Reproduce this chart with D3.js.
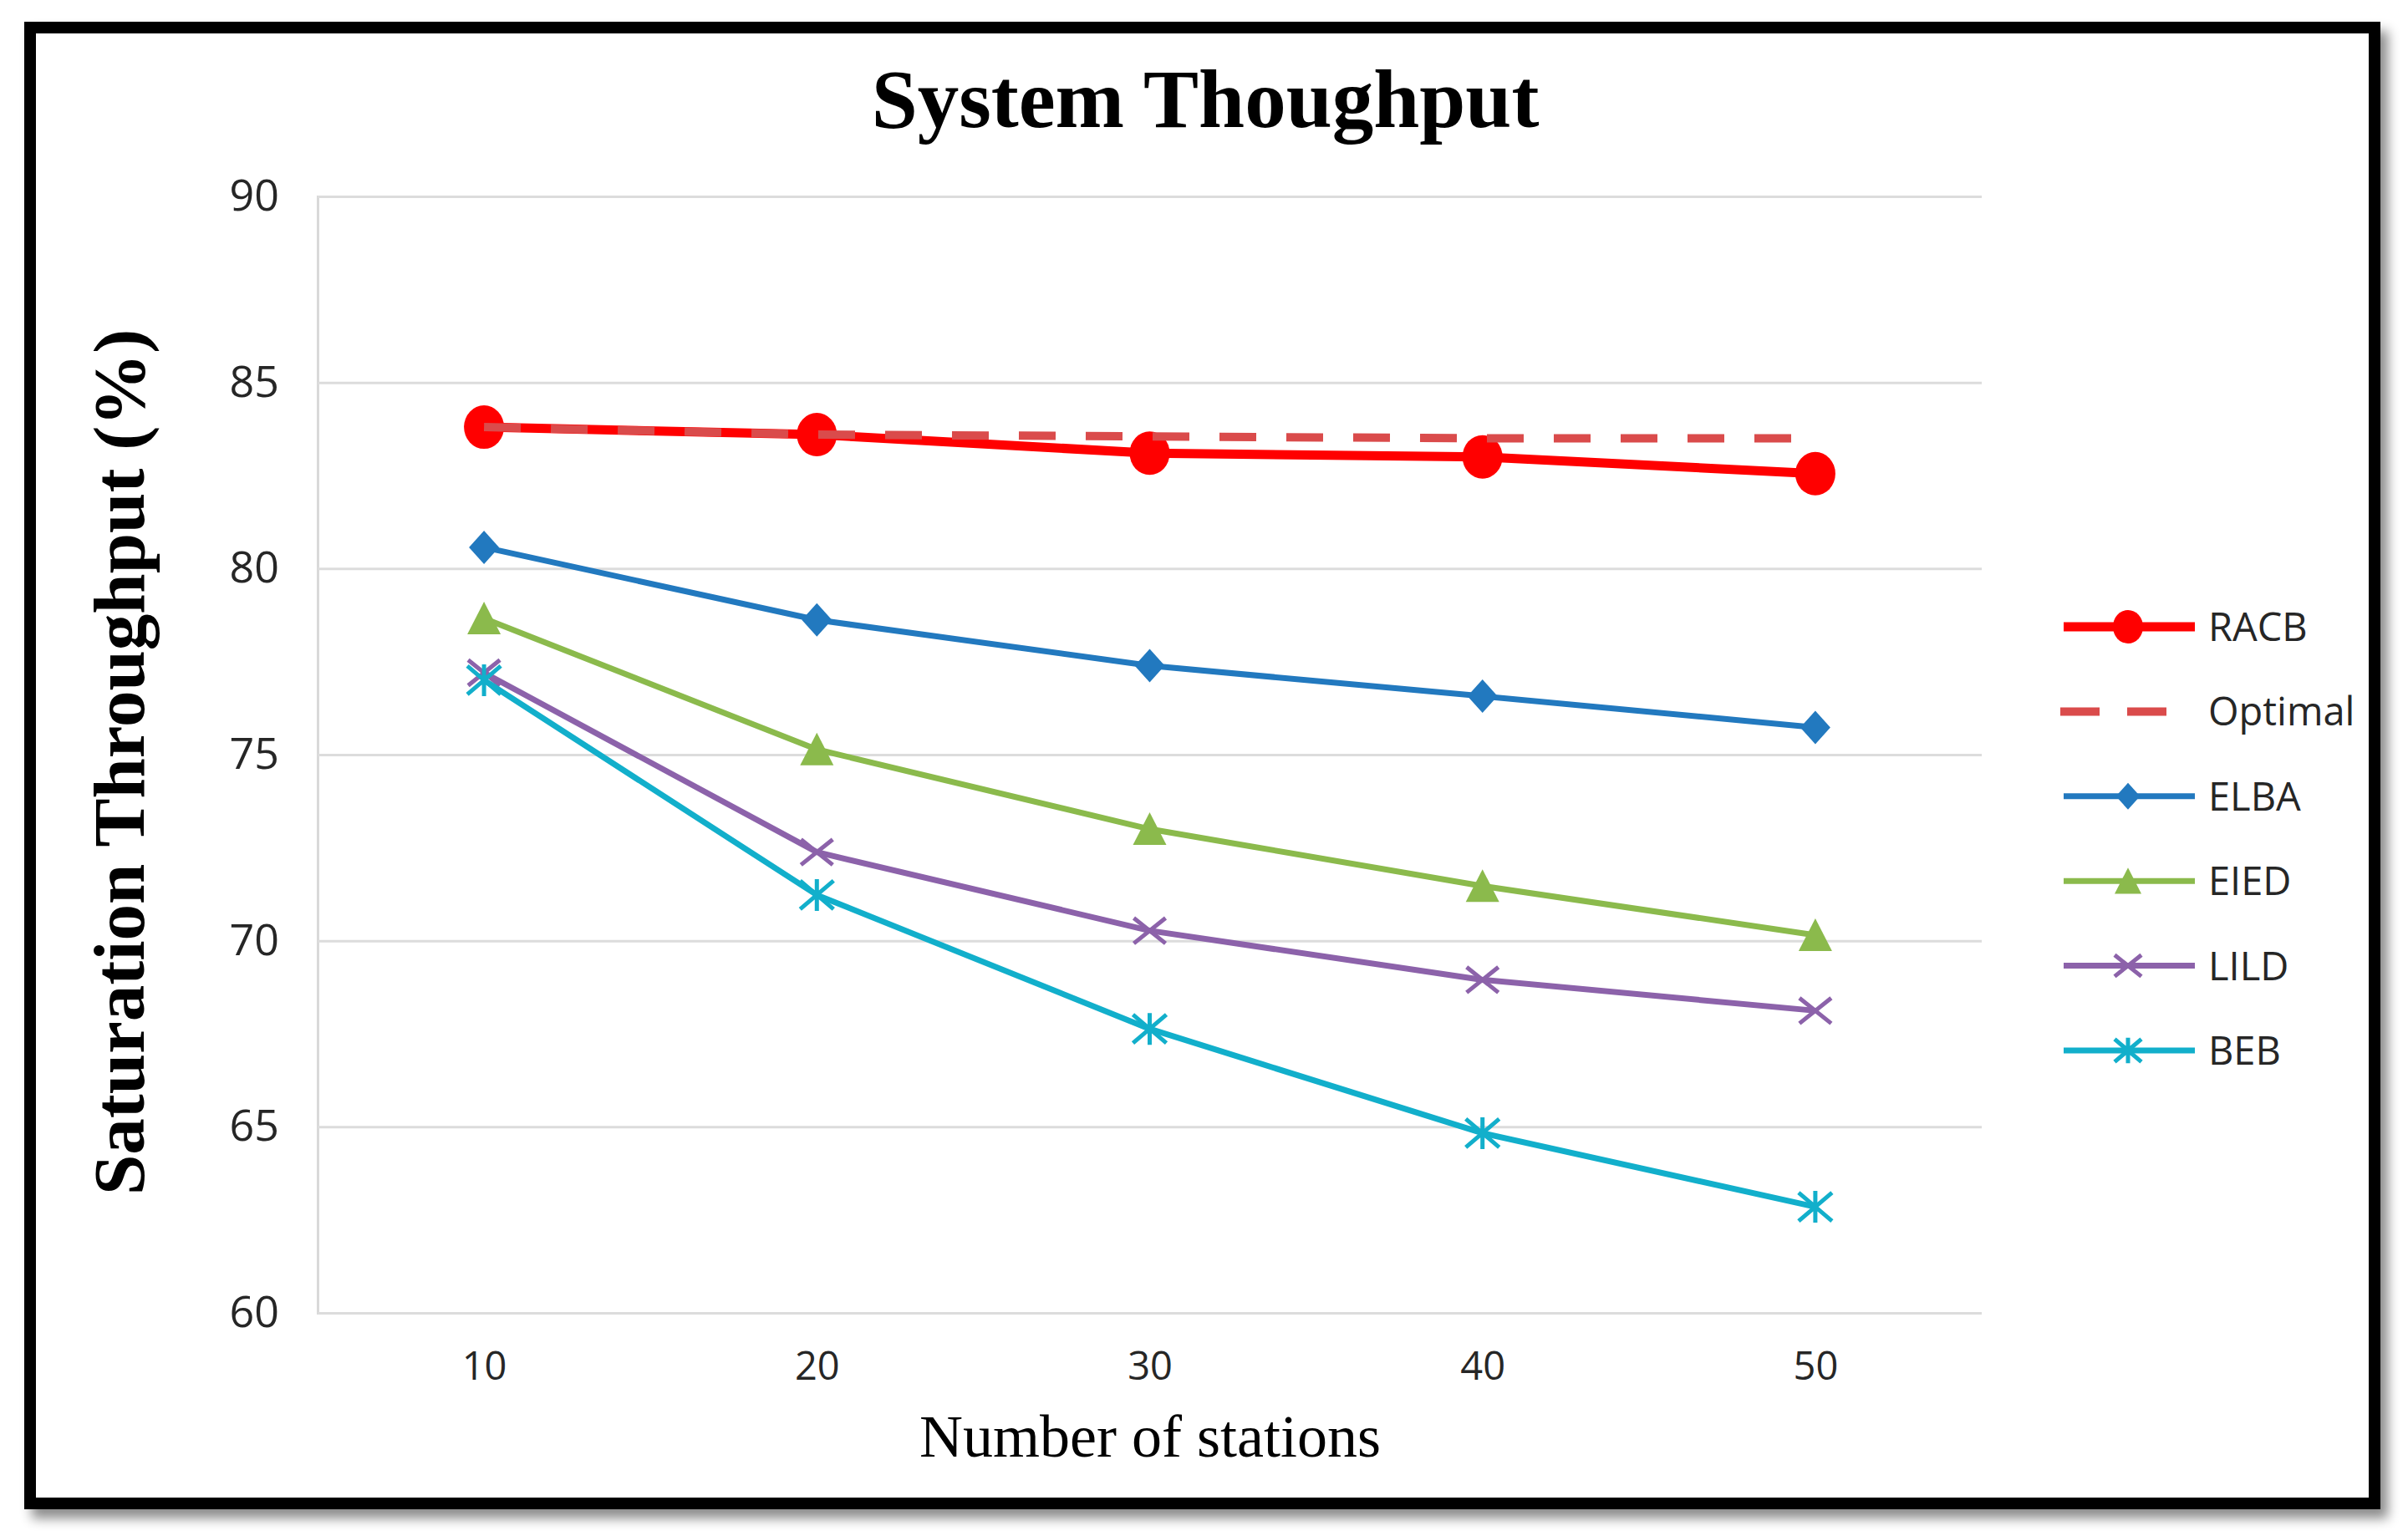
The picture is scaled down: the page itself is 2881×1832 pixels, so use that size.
<!DOCTYPE html>
<html>
<head>
<meta charset="utf-8">
<script src="https://cdn.jsdelivr.net/npm/d3@7"></script>
<style>
  html, body { margin: 0; padding: 0; background: #ffffff; }
  svg { display: block; }
</style>
</head>
<body>
<svg id="chart" width="2881" height="1832"></svg>
<script>
// ---- data ----
const categories = [10, 20, 30, 40, 50];
const yTickValues = [60, 65, 70, 75, 80, 85, 90];
const seriesNames = ["RACB", "Optimal", "ELBA", "EIED", "LILD", "BEB"];
const racb    = [83.8, 83.6, 83.1, 83.0, 82.55];
const optimal = [83.8, 83.6, 83.55, 83.5, 83.5];
const elba    = [80.57, 78.62, 77.39, 76.57, 75.73];
const eied    = [78.66, 75.14, 73.0, 71.47, 70.15];
const lild    = [77.2, 72.38, 70.27, 68.95, 68.12];
const beb     = [77.0, 71.23, 67.63, 64.83, 62.85];

const titleText = "System Thoughput";
const xTitle = "Number of stations";
const yTitle = "Saturation Throughput (%)";

// ---- styles ----
const styles = {
  RACB:    { color: "#FF0000", width: 11, marker: "circle",   size: 25 },
  Optimal: { color: "#DA4B4B", width: 10, marker: "none", dash: "44,36" },
  ELBA:    { color: "#2279BF", width: 7,  marker: "diamond",  size: 20 },
  EIED:    { color: "#8BBA4C", width: 7,  marker: "triangle", size: 20 },
  LILD:    { color: "#8C62AA", width: 7,  marker: "x",        size: 19 },
  BEB:     { color: "#12AFCB", width: 7,  marker: "star",     size: 20 }
};
const dataBySeries = { RACB: racb, Optimal: optimal, ELBA: elba, EIED: eied, LILD: lild, BEB: beb };

const svg = d3.select("#chart");

// drop shadow for frame
const defs = svg.append("defs");
const f = defs.append("filter").attr("id", "shadow").attr("x", "-5%").attr("y", "-5%").attr("width", "110%").attr("height", "110%");
f.append("feDropShadow").attr("dx", 9).attr("dy", 11).attr("stdDeviation", 7).attr("flood-color", "#000").attr("flood-opacity", 0.45);

// frame
svg.append("rect")
  .attr("x", 36).attr("y", 33).attr("width", 2805).attr("height", 1766)
  .attr("fill", "#ffffff").attr("stroke", "#000").attr("stroke-width", 14)
  .attr("filter", "url(#shadow)");

// ---- scales ----
const plot = { left: 380, right: 2371, top: 235, bottom: 1571 };
const x = d3.scalePoint().domain(categories).range([plot.left, plot.right]).padding(0.5);
const y = d3.scaleLinear().domain([60, 90]).range([plot.bottom, plot.top]);

// gridlines + y axis
const yAxis = d3.axisLeft(y).tickValues(yTickValues).tickSize(-(plot.right - plot.left)).tickPadding(46).tickFormat(d3.format("d"));
const gy = svg.append("g").attr("transform", `translate(${plot.left},0)`).call(yAxis);
gy.select(".domain").attr("stroke", "#D9D9D9").attr("stroke-width", 3);
gy.selectAll(".tick line").attr("stroke", "#DCDCDC").attr("stroke-width", 3);
gy.selectAll(".tick text")
  .attr("font-family", "'Open Sans', sans-serif").attr("font-size", 52).attr("fill", "#262626");

// x axis
const xAxis = d3.axisBottom(x).tickSize(0).tickPadding(47);
const gx = svg.append("g").attr("transform", `translate(0,${plot.bottom})`).call(xAxis);
gx.select(".domain").remove();
gx.selectAll(".tick text")
  .attr("font-family", "'Open Sans', sans-serif").attr("font-size", 47).attr("fill", "#262626");

// ---- marker drawing ----
function markerPath(type, s) {
  switch (type) {
    case "diamond": return `M0,${-s}L${s*0.9},0L0,${s}L${-s*0.9},0Z`;
    case "triangle": return `M0,${-s}L${s},${s*0.95}L${-s},${s*0.95}Z`;
    case "x": return `M${-s},${-s*0.8}L${s},${s*0.8}M${-s},${s*0.8}L${s},${-s*0.8}`;
    case "star": return `M${-s},${-s*0.85}L${s},${s*0.85}M${-s},${s*0.85}L${s},${-s*0.85}M0,${-s*0.95}L0,${s*0.95}`;
  }
  return "";
}
function drawMarker(g, type, s, color, cx, cy) {
  if (type === "circle") {
    g.append("ellipse").attr("cx", cx).attr("cy", cy).attr("rx", s - 1).attr("ry", s + 1).attr("fill", color);
  } else if (type === "diamond" || type === "triangle") {
    g.append("path").attr("d", markerPath(type, s)).attr("transform", `translate(${cx},${cy})`).attr("fill", color);
  } else if (type === "x" || type === "star") {
    g.append("path").attr("d", markerPath(type, s)).attr("transform", `translate(${cx},${cy})`)
      .attr("fill", "none").attr("stroke", color).attr("stroke-width", 5);
  }
}

// ---- series ----
const line = d3.line().x((d, i) => x(categories[i])).y(d => y(d));
const gSeries = svg.append("g");
seriesNames.forEach(name => {
  const st = styles[name];
  const vals = dataBySeries[name];
  const g = gSeries.append("g");
  g.append("path").datum(vals).attr("d", line)
    .attr("fill", "none").attr("stroke", st.color).attr("stroke-width", st.width)
    .attr("stroke-linejoin", "round")
    .attr("stroke-dasharray", st.dash || null);
  if (st.marker !== "none") {
    vals.forEach((v, i) => drawMarker(g, st.marker, st.size, st.color, x(categories[i]), y(v)));
  }
});

// ---- legend ----
const legendY = d3.scalePoint().domain(seriesNames).range([750, 1257]);
const lg = svg.append("g");
seriesNames.forEach(name => {
  const st = styles[name];
  const ly = legendY(name);
  if (st.dash) {
    lg.append("line").attr("x1", 2465).attr("x2", 2592).attr("y1", ly).attr("y2", ly)
      .attr("stroke", st.color).attr("stroke-width", st.width).attr("stroke-dasharray", "47,33");
  } else {
    lg.append("line").attr("x1", 2469).attr("x2", 2626).attr("y1", ly).attr("y2", ly)
      .attr("stroke", st.color).attr("stroke-width", st.width);
    drawMarker(lg, st.marker, st.marker === "circle" ? 19 : 16, st.color, 2546, ly);
  }
  lg.append("text").attr("x", 2642).attr("y", ly).attr("dy", "0.36em")
    .attr("font-family", "'Open Sans', sans-serif").attr("font-size", 47).attr("fill", "#262626")
    .text(name);
});

// ---- titles ----
svg.append("text").attr("x", 1442).attr("y", 152).attr("text-anchor", "middle")
  .attr("font-family", "'Liberation Serif', 'Times New Roman', serif").attr("font-weight", "bold")
  .attr("font-size", 99).attr("fill", "#000").text(titleText);

svg.append("text").attr("x", 1376).attr("y", 1743).attr("text-anchor", "middle")
  .attr("font-family", "'Liberation Serif', 'Times New Roman', serif")
  .attr("font-size", 72).attr("fill", "#000").text(xTitle);

svg.append("text").attr("transform", "translate(172,912) rotate(-90)").attr("text-anchor", "middle")
  .attr("font-family", "'Liberation Serif', 'Times New Roman', serif").attr("font-weight", "bold")
  .attr("font-size", 87).attr("fill", "#000").text(yTitle);
</script>
</body>
</html>
